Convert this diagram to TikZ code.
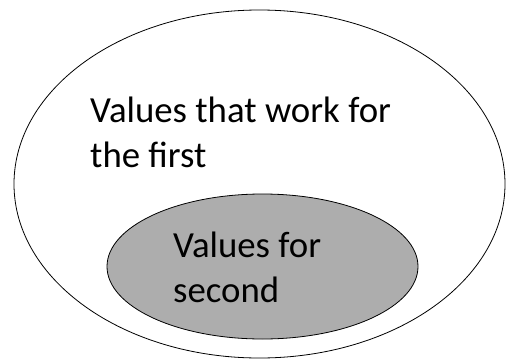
\documentclass[tikz,border=0pt]{standalone}
\usepackage{fontspec}
\setmainfont{Carlito}
\usetikzlibrary{shapes.geometric}
\definecolor{setgray}{RGB}{173,173,173}
\begin{document}
\begin{tikzpicture}[x=1pt,y=-1pt]
        \tikzstyle{setellipse}=[ellipse, draw, line width=0.8pt, inner sep=0pt]
        \tikzstyle{settext}=[align=left, inner sep=0pt, font=\fontsize{36.8}{45}\selectfont]

        \useasboundingbox (0,0) rectangle (506,359);

        \node[setellipse, minimum width=491pt, minimum height=348pt] (first) at (259.5,184) {};
        \node[setellipse, fill=setgray, minimum width=311pt, minimum height=145pt] (second) at (262.5,266.5) {};

        \node[settext, anchor=base west] (firsttext) at (90,167) {Values that work for\\the first};
        \node[settext, anchor=base west] (secondtext) at (173,302) {Values for\\second};
    \end{tikzpicture}
\end{document}
